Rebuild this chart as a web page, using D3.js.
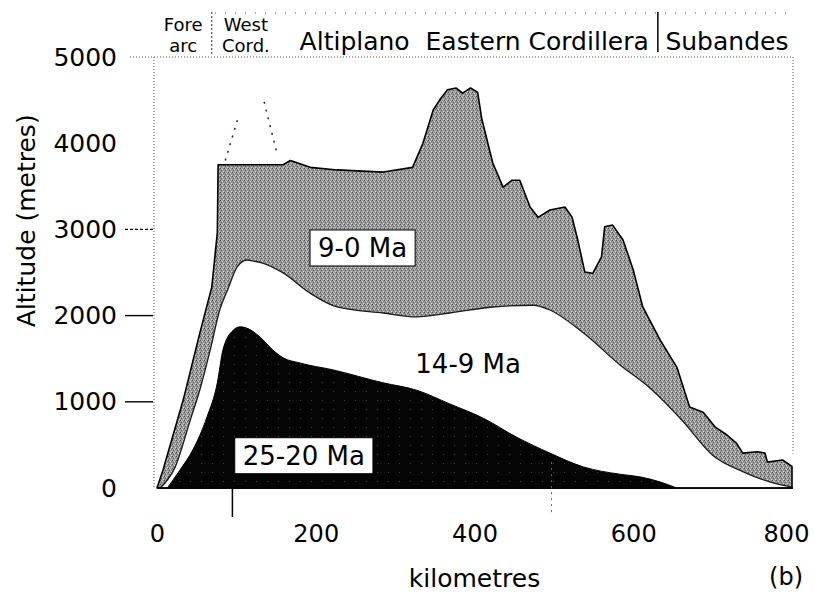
<!DOCTYPE html>
<html>
<head>
<meta charset="utf-8">
<script src="https://cdn.jsdelivr.net/npm/d3@7"></script>
<style>
  body { margin: 0; background: #fff; }
  svg text { font-family: "DejaVu Sans", sans-serif; fill: #000; }
</style>
</head>
<body>
<svg id="chart" width="814" height="594"></svg>
<script>
// present-day topography, top of 9-0 Ma uplift (km, metres)
var modernKm  = [0, 7.6, 33, 54, 69, 76, 77, 159, 168, 193, 227, 285, 322, 335, 348, 356, 366, 377, 385, 395, 404, 409, 423, 436, 447, 457, 470, 480, 495, 514, 523, 530, 539, 549, 560, 564, 574, 587, 600, 612, 634, 655, 671, 688, 703, 718, 730, 738, 756, 766, 769, 788, 800];
var modernAlt = [0, 209, 1020, 1800, 2330, 2960, 3750, 3750, 3800, 3720, 3690, 3665, 3720, 4000, 4385, 4500, 4620, 4640, 4580, 4640, 4590, 4290, 3770, 3490, 3570, 3570, 3260, 3140, 3225, 3260, 3140, 2880, 2505, 2490, 2680, 3030, 3050, 2880, 2530, 2100, 1715, 1400, 940, 880, 710, 615, 520, 405, 420, 405, 300, 325, 250];

// 14-9 Ma surface
var midKm  = [4, 23, 42, 54, 67, 79, 89, 101, 113, 123, 133, 159, 193, 227, 285, 327, 369, 423, 474, 495, 537, 583, 621, 662, 700, 738, 772, 800];
var midAlt = [0, 245, 790, 1140, 1600, 2065, 2300, 2565, 2645, 2630, 2610, 2495, 2260, 2100, 2030, 1985, 2030, 2100, 2120, 2065, 1800, 1430, 1160, 780, 380, 190, 70, 10];

// 25-20 Ma surface
var oldKm  = [13, 29, 45, 63, 76, 83, 96, 105, 113, 130, 146, 159, 180, 222, 285, 327, 369, 411, 453, 495, 537, 583, 608, 634, 652, 655];
var oldAlt = [0, 210, 440, 825, 1220, 1600, 1830, 1870, 1855, 1750, 1600, 1510, 1450, 1370, 1220, 1135, 975, 810, 590, 405, 245, 160, 130, 70, 10, 0];

// dashed volcano outline above West Cordillera
var volcanoKm  = [86, 102, null, 135, 152];
var volcanoAlt = [3800, 4290, null, 4480, 3850];

var xTicks = [0, 200, 400, 600, 800];
var yTicks = [0, 1000, 2000, 3000, 4000, 5000];
var yTickMarks = [1000, 2000, 3000];

var regions = [
  {lines: ["Fore", "arc"], km: 33},
  {lines: ["West", "Cord."], km: 112}
];
var bigRegions = [
  {label: "Altiplano", km: 249},
  {label: "Eastern Cordillera", km: 479},
  {label: "Subandes", km: 718}
];
var regionBreaks = [69, 631];

var svg = d3.select("#chart");

var x = d3.scaleLinear().domain([0, 800]).range([157, 792]);
var y = d3.scaleLinear().domain([0, 5000]).range([488, 57]);

// textures
var defs = svg.append("defs");
var st = defs.append("pattern").attr("id", "stipple")
    .attr("width", 4).attr("height", 4).attr("patternUnits", "userSpaceOnUse");
st.append("rect").attr("width", 4).attr("height", 4).attr("fill", "#989898");
[[0, 0, "#4a4a4a"], [2, 1, "#d8d8d8"], [1, 2, "#5e5e5e"], [3, 3, "#d2d2d2"], [3, 1, "#7a7a7a"], [1, 0, "#b8b8b8"]].forEach(function (p) {
    st.append("rect").attr("x", p[0]).attr("y", p[1]).attr("width", 1).attr("height", 1).attr("fill", p[2]);
});
var sp = defs.append("pattern").attr("id", "speckle")
    .attr("width", 11).attr("height", 9).attr("patternUnits", "userSpaceOnUse");
sp.append("rect").attr("width", 11).attr("height", 9).attr("fill", "#050505");
sp.append("rect").attr("x", 3).attr("y", 4).attr("width", 1).attr("height", 1).attr("fill", "#3a3a3a");

function zip(a, b) {
    return a.map(function (d, i) { return [d, b[i]]; });
}

var area = d3.area()
    .x(function (d) { return x(d[0]); })
    .y0(y(0))
    .y1(function (d) { return y(d[1]); });

var smoothArea = d3.area()
    .x(function (d) { return x(d[0]); })
    .y0(y(0))
    .y1(function (d) { return y(d[1]); })
    .curve(d3.curveMonotoneX);

// 9-0 Ma (grey)
svg.append("path")
    .attr("d", area(zip(modernKm, modernAlt)))
    .attr("fill", "url(#stipple)")
    .attr("stroke", "#000")
    .attr("stroke-width", 1.6)
    .attr("stroke-linejoin", "round");

// 14-9 Ma (white)
svg.append("path")
    .attr("d", smoothArea(zip(midKm, midAlt)))
    .attr("fill", "#fff")
    .attr("stroke", "#1a1a1a")
    .attr("stroke-width", 1.3);

// 25-20 Ma (black)
svg.append("path")
    .attr("d", smoothArea(zip(oldKm, oldAlt)))
    .attr("fill", "url(#speckle)")
    .attr("stroke", "#000")
    .attr("stroke-width", 1);

// volcano
svg.append("path")
    .attr("d", d3.line()
        .defined(function (d) { return d[0] !== null; })
        .x(function (d) { return x(d[0]); })
        .y(function (d) { return y(d[1]); })(zip(volcanoKm, volcanoAlt)))
    .attr("fill", "none")
    .attr("stroke", "#222")
    .attr("stroke-width", 1.5)
    .attr("stroke-dasharray", "2,6");

// frame (dotted, as on the scan)
var frame = svg.append("g").attr("stroke", "#555").attr("stroke-width", 1).attr("stroke-dasharray", "1,2");
frame.append("line").attr("x1", 130).attr("x2", x(800) + 1).attr("y1", y(5000)).attr("y2", y(5000));
frame.append("line").attr("x1", x(0) - 3).attr("x2", x(0) - 3).attr("y1", y(5000)).attr("y2", y(0));
frame.append("line").attr("x1", x(800) + 1).attr("x2", x(800) + 1).attr("y1", y(5000)).attr("y2", y(400));
frame.append("line").attr("x1", 215).attr("x2", x(800)).attr("y1", 13).attr("y2", 13).attr("stroke-dasharray", "1,9");

// baseline
svg.append("line")
    .attr("x1", x(0)).attr("x2", x(800) + 1)
    .attr("y1", y(0)).attr("y2", y(0))
    .attr("stroke", "#000").attr("stroke-width", 1.5);

// markers below the axis
svg.append("line")
    .attr("x1", x(95)).attr("x2", x(95))
    .attr("y1", y(0)).attr("y2", y(0) + 29)
    .attr("stroke", "#000").attr("stroke-width", 1.5);
svg.append("line")
    .attr("x1", x(497)).attr("x2", x(497))
    .attr("y1", y(300)).attr("y2", y(0) + 27)
    .attr("stroke", "#666").attr("stroke-width", 1).attr("stroke-dasharray", "2,4");

// axes
var xAxis = svg.append("g")
    .attr("transform", "translate(0," + y(0) + ")")
    .call(d3.axisBottom(x).tickValues(xTicks).tickSize(0).tickPadding(37).tickFormat(d3.format("d")));
xAxis.select(".domain").remove();
xAxis.selectAll("text")
    .style("font-size", "24px")
    .attr("dx", function (d) { return d === 800 ? "-6" : null; });

var yAxis = svg.append("g")
    .attr("transform", "translate(" + (x(0) - 3) + ",0)")
    .call(d3.axisLeft(y).tickValues(yTicks).tickSize(0).tickPadding(37).tickFormat(d3.format("d")));
yAxis.select(".domain").remove();
yAxis.selectAll("text").style("font-size", "25px");

svg.selectAll(".ytick").data(yTickMarks).enter().append("line")
    .attr("x1", x(0) - 32).attr("x2", x(0) - 4)
    .attr("y1", function (d) { return y(d); })
    .attr("y2", function (d) { return y(d); })
    .attr("stroke", "#000")
    .attr("stroke-width", 1.4)
    .attr("stroke-dasharray", function (d) { return d === 3000 ? "3,2" : null; });

svg.append("text")
    .attr("transform", "translate(35," + y(3100) + ") rotate(-90)")
    .attr("text-anchor", "middle")
    .style("font-size", "25px")
    .text("Altitude (metres)");

svg.append("text")
    .attr("x", x(400)).attr("y", 587)
    .attr("text-anchor", "middle")
    .style("font-size", "25px")
    .text("kilometres");

svg.append("text")
    .attr("x", 803).attr("y", 585)
    .attr("text-anchor", "end")
    .style("font-size", "24px")
    .text("(b)");

// region header
svg.selectAll(".region").data(regions).enter().append("text")
    .attr("text-anchor", "middle")
    .style("font-size", "18px")
    .each(function (d) {
        var t = d3.select(this);
        d.lines.forEach(function (l, i) {
            t.append("tspan").attr("x", x(d.km)).attr("y", 31 + i * 21).text(l);
        });
    });

svg.selectAll(".bigregion").data(bigRegions).enter().append("text")
    .attr("x", function (d) { return x(d.km); })
    .attr("y", 50)
    .attr("text-anchor", "middle")
    .style("font-size", "25px")
    .text(function (d) { return d.label; });

svg.append("line")
    .attr("x1", x(regionBreaks[0])).attr("x2", x(regionBreaks[0]))
    .attr("y1", 12).attr("y2", 55)
    .attr("stroke", "#333").attr("stroke-width", 1).attr("stroke-dasharray", "2,2");
svg.append("line")
    .attr("x1", x(regionBreaks[1])).attr("x2", x(regionBreaks[1]))
    .attr("y1", 12).attr("y2", 52)
    .attr("stroke", "#000").attr("stroke-width", 1.5);

// age labels
function boxLabel(txt, km, alt, boxed) {
    var t = svg.append("text")
        .attr("x", x(km)).attr("y", y(alt))
        .attr("text-anchor", "middle")
        .style("font-size", "26px")
        .text(txt);
    if (boxed) {
        var b = t.node().getBBox();
        svg.insert("rect", function () { return t.node(); })
            .attr("x", b.x - 8).attr("y", b.y - 3)
            .attr("width", b.width + 16).attr("height", b.height + 6)
            .attr("fill", "#fff")
            .attr("stroke", "#000")
            .attr("stroke-width", 1);
    }
}
boxLabel("9-0 Ma", 259, 2680, true);
boxLabel("14-9 Ma", 392, 1330, false);
boxLabel("25-20 Ma", 185, 270, true);
</script>
</body>
</html>
